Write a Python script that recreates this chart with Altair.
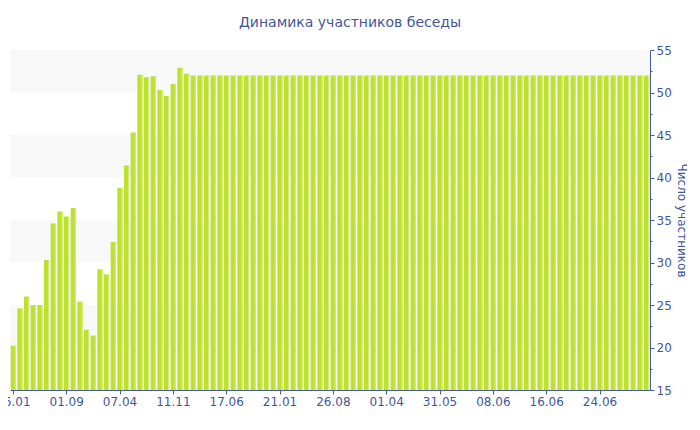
import json
import altair as alt
import pandas as pd

# ---- data ----
values = [
    20.2, 24.6, 26.0, 25.0, 25.0, 30.3, 34.6, 36.0, 35.4, 36.4,
    25.4, 22.1, 21.4, 29.2, 28.6, 32.4, 38.8, 41.4, 45.3, 52.1,
    51.8, 51.9, 50.3, 49.6, 51.0, 52.9, 52.2, 52, 52, 52,
    52, 52, 52, 52, 52, 52, 52, 52, 52, 52,
    52, 52, 52, 52, 52, 52, 52, 52, 52, 52,
    52, 52, 52, 52, 52, 52, 52, 52, 52, 52,
    52, 52, 52, 52, 52, 52, 52, 52, 52, 52,
    52, 52, 52, 52, 52, 52, 52, 52, 52, 52,
    52, 52, 52, 52, 52, 52, 52, 52, 52, 52,
    52, 52, 52, 52, 52, 52,
]
tick_labels = ["26.01", "01.09", "07.04", "11.11", "17.06", "21.01",
               "26.08", "01.04", "31.05", "08.06", "16.06", "24.06"]
label_every = 8
band_lows = [20, 30, 40, 50]
band_size = 5
y_min, y_max = 15, 55

title_text = "Динамика участников беседы"
y_title = "Число участников"

# ---- styling ----
FONT = "DejaVu Sans"
AXIS_COLOR = "#4a5a9e"
TEXT_COLOR = "#44559c"
BAR_COLOR = "#bde12e"
HILITE = "#d8ed84"
BAND_COLOR = "#f8f8f8"

df = pd.DataFrame({"i": list(range(len(values))), "v": values})
bands = pd.DataFrame({"lo": band_lows, "hi": [b + band_size for b in band_lows]})

yscale = alt.Scale(domain=[y_min, y_max], zero=False, nice=False)
xscale = alt.Scale(paddingInner=0.2, paddingOuter=0.1)

major = list(range(y_min, y_max + 1, 5))
minor = [m + 2.5 for m in major[:-1]]
y_vals = sorted(major + minor)

label_expr = json.dumps(tick_labels) + "[datum.value / %d]" % label_every

x_axis = alt.Axis(
    values=list(range(0, len(values), label_every)),
    labelExpr=label_expr,
    labelAngle=0,
    title=None,
    grid=False,
    domainColor=AXIS_COLOR,
    tickColor=AXIS_COLOR,
    labelColor=TEXT_COLOR,
    labelFont=FONT,
    labelFontSize=12,
    tickSize=4,
    labelPadding=2,
)
y_axis = alt.Axis(
    orient="right",
    values=y_vals,
    labelExpr="datum.value % 5 == 0 ? datum.label : ''",
    tickSize={"condition": {"test": "datum.value % 5 != 0", "value": 2}, "value": 4},
    grid=False,
    domainColor=AXIS_COLOR,
    tickColor=AXIS_COLOR,
    labelColor=TEXT_COLOR,
    labelFont=FONT,
    labelFontSize=12,
    labelPadding=2,
    title=y_title,
    titleAngle=90,
    titleFont=FONT,
    titleFontSize=12,
    titleFontWeight="normal",
    titleColor=TEXT_COLOR,
    titlePadding=3,
)

bg = alt.Chart(bands).mark_rect(color=BAND_COLOR).encode(
    x=alt.value(0),
    x2=alt.value(640),
    y=alt.Y("lo:Q", scale=yscale, axis=y_axis),
    y2="hi:Q",
)

bars = alt.Chart(df).mark_bar(color=BAR_COLOR).encode(
    x=alt.X("i:O", scale=xscale, axis=x_axis),
    y=alt.Y("v:Q", scale=yscale, axis=y_axis),
    y2=alt.datum(y_min),
)

hl = alt.Chart(df).mark_bar(color=HILITE, width=1, xOffset=1.9).encode(
    x=alt.X("i:O", scale=xscale, axis=x_axis),
    y=alt.Y("v:Q", scale=yscale, axis=y_axis),
    y2=alt.datum(y_min),
)

chart = alt.layer(bg, bars, hl).properties(
    width=640,
    height=340,
    autosize=alt.AutoSizeParams(type="none"),
    padding={"left": 2, "top": 42, "right": 42, "bottom": 30},
    background="white",
    title=alt.TitleParams(
        title_text,
        font=FONT,
        fontSize=14,
        fontWeight="normal",
        color=TEXT_COLOR,
        anchor="middle",
        dx=20,
        offset=14,
    ),
).configure_view(stroke=None)

chart.save("out.html", embed_options={"renderer": "svg", "actions": False})
